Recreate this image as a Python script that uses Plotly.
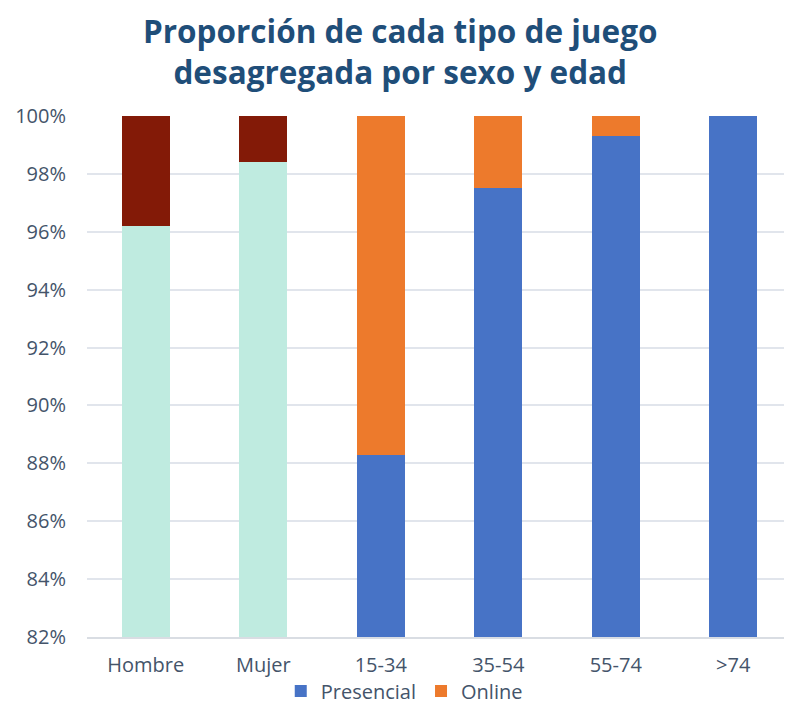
import plotly.graph_objects as go

categories = ["Hombre", "Mujer", "15-34", "35-54", "55-74", ">74"]
sex_cats = ["Hombre", "Mujer"]
age_cats = ["15-34", "35-54", "55-74", ">74"]
sex_presencial = [96.2, 98.4]
sex_online = [3.8, 1.6]
age_presencial = [88.3, 97.5, 99.3, 100.0]
age_online = [11.7, 2.5, 0.7, 0.0]
y_ticks = [82, 84, 86, 88, 90, 92, 94, 96, 98, 100]
y_ticklabels = [f"{v}%" for v in y_ticks]
title_text = "Proporción de cada tipo de juego<br>desagregada por sexo y edad"

fig = go.Figure()
fig.add_bar(x=sex_cats, y=sex_presencial, marker_color="#BFEBE0", showlegend=False,
            name="Presencial", marker_line_width=0)
fig.add_bar(x=sex_cats, y=sex_online, marker_color="#831A07", showlegend=False,
            name="Online", marker_line_width=0)
fig.add_bar(x=age_cats, y=age_presencial, marker_color="#4773C6", name="Presencial",
            marker_line_width=0)
fig.add_bar(x=age_cats, y=age_online, marker_color="#ED7A2C", name="Online",
            marker_line_width=0)

font_family = "'Open Sans', Lato, sans-serif"
W, H = 784, 705
ml, mr, mt, mb = 79, 0, 108, 76
pw = W - ml - mr
ph = H - mt - mb


def px_to_paper(xpx, ypx):
    return (xpx - ml) / pw, (H - mb - ypx) / ph


tx, ty = px_to_paper(392, 43)
fig.add_annotation(text=f"<b>{title_text}</b>", xref="paper", yref="paper",
                   x=tx, y=ty, xanchor="center", yanchor="middle",
                   showarrow=False, align="center",
                   font=dict(family=font_family, size=31.5, color="#1F4E79"))

_, leg_y = px_to_paper(0, 683)

fig.update_layout(
    barmode="stack",
    bargap=0.59,
    width=W, height=H,
    paper_bgcolor="white", plot_bgcolor="white",
    margin=dict(l=ml, r=mr, t=mt, b=mb),
    font=dict(family=font_family, size=20, color="#44546A"),
    xaxis=dict(categoryorder="array", categoryarray=categories,
               showline=True, linecolor="#D9DDE3", linewidth=1.5,
               showgrid=False, ticks="", ticklabelstandoff=9,
               tickfont=dict(size=20, color="#44546A")),
    yaxis=dict(range=[82, 100], tickvals=y_ticks, ticktext=y_ticklabels,
               showgrid=True, gridcolor="#E1E5EC", gridwidth=1.5,
               zeroline=False, showline=False, ticks="", ticklabelstandoff=20,
               tickfont=dict(size=20, color="#44546A")),
    legend=dict(orientation="h", x=0.45, xanchor="center", y=leg_y, yanchor="middle",
                font=dict(size=20, color="#44546A"), traceorder="normal",
                itemwidth=30, tracegroupgap=0, bgcolor="rgba(0,0,0,0)"),
)

fig.write_html("out.html")
